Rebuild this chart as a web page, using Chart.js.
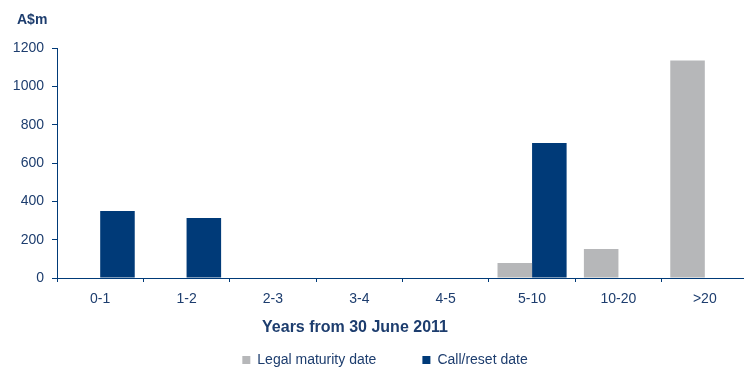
<!DOCTYPE html>
<html>
<head>
<meta charset="utf-8">
<script src="https://cdn.jsdelivr.net/npm/chart.js@4.4.1/dist/chart.umd.min.js"></script>
<style>
  html, body { margin: 0; padding: 0; background: #fff; overflow: hidden; }
  #wrap { width: 756px; height: 367px; }
</style>
</head>
<body>
<div id="wrap"><canvas id="maturity-chart" width="756" height="367"></canvas></div>
<script>
// Maturity profile (A$m)
const categories = ['0-1', '1-2', '2-3', '3-4', '4-5', '5-10', '10-20', '>20'];
const legalMaturity = [null, null, null, null, null, 78, 151, 1135];
const callReset = [350, 313, null, null, null, 704, null, null];
const yTicks = [0, 200, 400, 600, 800, 1000, 1200];

const NAVY = '#003a78';
const GREY = '#b6b7b9';
const TEXT = '#1d3d6e';
const FONT = "'Liberation Sans', Arial, sans-serif";

Chart.defaults.font.family = FONT;
Chart.defaults.color = TEXT;

// draws the unit label and the x axis caption
const axisCaptions = {
    id: 'axisCaptions',
    afterLayout(chart) {
        // nudge the legend a little to the right of centre
        if (chart.legend) chart.legend.left += 22;
    },
    afterDraw(chart) {
        const ctx = chart.ctx;
        ctx.save();
        ctx.fillStyle = TEXT;
        ctx.textBaseline = 'middle';
        ctx.textAlign = 'left';
        ctx.font = 'bold 14px ' + FONT;
        ctx.fillText('A$m', 17, 20);
        ctx.textAlign = 'center';
        ctx.font = 'bold 16px ' + FONT;
        ctx.fillText('Years from 30 June 2011', 355, 328);
        ctx.restore();
    }
};

new Chart(document.getElementById('maturity-chart'), {
    type: 'bar',
    data: {
        labels: categories,
        datasets: [{
            label: 'Legal maturity date',
            data: legalMaturity,
            backgroundColor: GREY,
            borderWidth: 0
        }, {
            label: 'Call/reset date',
            data: callReset,
            backgroundColor: NAVY,
            borderWidth: 0
        }]
    },
    options: {
        responsive: false,
        animation: false,
        devicePixelRatio: 1,
        categoryPercentage: 0.8,
        barPercentage: 1.0,
        layout: {
            padding: { left: 0, right: 8, top: 48, bottom: -10 }
        },
        plugins: {
            title: { display: false },
            tooltip: { enabled: false },
            legend: {
                position: 'bottom',
                labels: {
                    boxWidth: 8,
                    boxHeight: 8,
                    padding: 46,
                    color: TEXT,
                    font: { size: 14 }
                }
            }
        },
        scales: {
            x: {
                afterFit(scale) { scale.height = 29; },
                grid: {
                    offset: true,
                    drawOnChartArea: false,
                    drawTicks: true,
                    tickLength: 4,
                    color: NAVY
                },
                border: { display: true, color: NAVY, width: 1 },
                ticks: {
                    padding: 9,
                    color: TEXT,
                    font: { size: 14 }
                }
            },
            y: {
                min: 0,
                max: 1200,
                afterFit(scale) { scale.width = 57; },
                afterBuildTicks(scale) {
                    scale.ticks = yTicks.map(v => ({ value: v }));
                },
                grid: {
                    drawOnChartArea: false,
                    drawTicks: true,
                    tickLength: 5,
                    color: NAVY
                },
                border: { display: true, color: NAVY, width: 1 },
                ticks: {
                    padding: 8,
                    color: TEXT,
                    font: { size: 14 },
                    callback: v => String(v)
                }
            }
        }
    },
    plugins: [axisCaptions]
});
</script>
</body>
</html>
